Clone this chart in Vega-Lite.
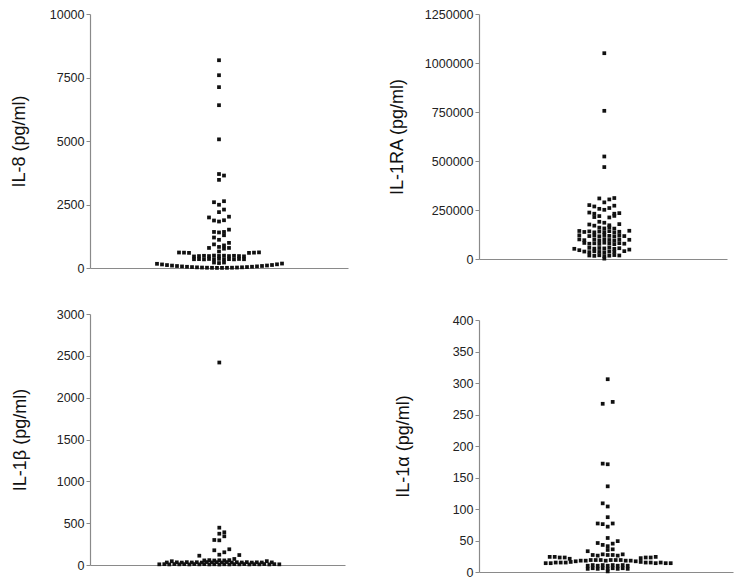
{
  "$schema": "https://vega.github.io/schema/vega-lite/v6.json",
  "background": "white",
  "padding": {"left": 10, "top": 8, "right": 5, "bottom": 5},
  "config": {
    "view": {"stroke": null},
    "axis": {"domainColor": "#8a8a8a", "tickColor": "#8a8a8a", "labelColor": "#222", "titleColor": "#111", "labelFont": "Liberation Sans", "titleFont": "Liberation Sans", "labelFontSize": 12.5, "titleFontSize": 18, "titleFontWeight": "normal", "grid": false, "tickSize": 4, "labelPadding": 2, "domainWidth": 1.2}
  },
  "datasets": {
    "il8": [
      {"x":0,"v":8180},{"x":0,"v":7590},{"x":0,"v":7120},{"x":0,"v":6410},{"x":0,"v":5065},
      {"x":0,"v":3700},{"x":5,"v":3640},{"x":0,"v":3470},
      {"x":-5,"v":2590},{"x":5,"v":2630},{"x":0,"v":2490},
      {"x":5,"v":2300},{"x":0,"v":2200},
      {"x":-10,"v":1990},{"x":10,"v":2020},{"x":-5,"v":1870},{"x":0,"v":1830},{"x":5,"v":1880},
      {"x":10,"v":1510},{"x":-5,"v":1420},{"x":5,"v":1420},{"x":0,"v":1400},{"x":5,"v":1290},
      {"x":-5,"v":1200},{"x":0,"v":1110},
      {"x":10,"v":990},{"x":-5,"v":930},{"x":5,"v":890},{"x":0,"v":830},{"x":-10,"v":790},{"x":10,"v":790},{"x":5,"v":760},{"x":0,"v":650},
      {"x":-40,"v":610},{"x":-35,"v":605},{"x":-30,"v":595},{"x":30,"v":595},{"x":35,"v":605},{"x":40,"v":615},
      {"x":-25,"v":455},{"x":-20,"v":470},{"x":-15,"v":480},{"x":-10,"v":470},{"x":-5,"v":490},{"x":0,"v":475},{"x":5,"v":485},{"x":10,"v":470},{"x":15,"v":480},{"x":20,"v":470},{"x":25,"v":460},
      {"x":-25,"v":345},{"x":-20,"v":350},{"x":-15,"v":340},{"x":-10,"v":355},{"x":-5,"v":345},{"x":0,"v":360},{"x":5,"v":345},{"x":10,"v":350},{"x":15,"v":340},{"x":20,"v":355},{"x":25,"v":345},
      {"x":-5,"v":215},{"x":0,"v":195},{"x":5,"v":215},
      {"x":-62,"v":165},{"x":-57,"v":140},{"x":-52,"v":115},{"x":-47,"v":95},{"x":-42,"v":78},{"x":-37,"v":62},{"x":-32,"v":48},{"x":-27,"v":36},{"x":-22,"v":26},{"x":-17,"v":18},{"x":-12,"v":12},{"x":-7,"v":8},{"x":-2,"v":5},
      {"x":3,"v":5},{"x":8,"v":8},{"x":13,"v":12},{"x":18,"v":18},{"x":23,"v":27},{"x":28,"v":37},{"x":33,"v":50},{"x":38,"v":64},{"x":43,"v":80},{"x":48,"v":98},{"x":53,"v":118},{"x":58,"v":145},{"x":63,"v":175}
    ],
    "il1ra": [
      {"x":0,"v":1050000},{"x":0,"v":756000},{"x":0,"v":523000},{"x":0,"v":469000},
      {"x":-5,"v":309000},{"x":5,"v":304000},{"x":10,"v":311000},
      {"x":0,"v":289000},
      {"x":-15,"v":275000},{"x":-10,"v":268000},{"x":10,"v":272000},
      {"x":-5,"v":256000},{"x":0,"v":251000},{"x":5,"v":260000},
      {"x":-15,"v":237000},{"x":-10,"v":231000},{"x":10,"v":231000},{"x":15,"v":234000},
      {"x":-10,"v":214000},{"x":-5,"v":219000},{"x":5,"v":212000},{"x":10,"v":220000},
      {"x":-5,"v":190000},{"x":0,"v":185000},
      {"x":-15,"v":176000},{"x":-10,"v":170000},{"x":5,"v":172000},{"x":15,"v":178000},
      {"x":-5,"v":160000},{"x":0,"v":156000},{"x":5,"v":162000},{"x":10,"v":155000},
      {"x":-25,"v":143000},{"x":-20,"v":138000},{"x":-15,"v":141000},{"x":-10,"v":136000},{"x":-5,"v":140000},{"x":0,"v":137000},{"x":5,"v":142000},{"x":10,"v":135000},{"x":15,"v":139000},{"x":25,"v":144000},
      {"x":-25,"v":121000},{"x":-15,"v":117000},{"x":-10,"v":120000},{"x":-5,"v":116000},{"x":0,"v":122000},{"x":5,"v":118000},{"x":10,"v":115000},{"x":15,"v":121000},{"x":20,"v":117000},
      {"x":-25,"v":100000},{"x":-20,"v":96000},{"x":-10,"v":99000},{"x":-5,"v":95000},{"x":0,"v":101000},{"x":5,"v":97000},{"x":10,"v":94000},{"x":15,"v":100000},{"x":25,"v":98000},
      {"x":-20,"v":82000},{"x":-15,"v":78000},{"x":-10,"v":80000},{"x":-5,"v":77000},{"x":0,"v":83000},{"x":5,"v":79000},{"x":10,"v":76000},{"x":15,"v":81000},{"x":20,"v":78000},
      {"x":-30,"v":52000},{"x":-25,"v":45000},{"x":-15,"v":57000},{"x":-10,"v":53000},{"x":-5,"v":56000},{"x":0,"v":54000},{"x":5,"v":58000},{"x":10,"v":52000},{"x":15,"v":55000},{"x":25,"v":48000},
      {"x":-20,"v":38000},{"x":-15,"v":35000},{"x":-10,"v":39000},{"x":-5,"v":36000},{"x":0,"v":34000},{"x":5,"v":38000},{"x":10,"v":36000},{"x":20,"v":40000},
      {"x":-15,"v":18000},{"x":-10,"v":16000},{"x":-5,"v":19000},{"x":0,"v":15000},{"x":5,"v":17000},{"x":10,"v":20000},{"x":15,"v":18000},
      {"x":0,"v":2000}
    ],
    "il1b": [
      {"x":0,"v":2420},{"x":0,"v":446},{"x":0,"v":374},{"x":5,"v":391},{"x":5,"v":343},{"x":-5,"v":299},{"x":0,"v":295},
      {"x":-5,"v":176},{"x":10,"v":188},{"x":5,"v":152},{"x":0,"v":123},{"x":-20,"v":111},{"x":20,"v":119},{"x":15,"v":72},
      {"x":-15,"v":55},{"x":-10,"v":58},{"x":-5,"v":54},{"x":0,"v":57},{"x":5,"v":55},{"x":10,"v":58},
      {"x":-52.5,"v":30},{"x":-47.5,"v":45},{"x":-42.5,"v":32},{"x":-37.5,"v":29},{"x":-32.5,"v":34},{"x":-27.5,"v":30},{"x":-22.5,"v":33},{"x":-17.5,"v":29},{"x":-12.5,"v":35},{"x":-7.5,"v":31},{"x":-2.5,"v":34},
      {"x":2.5,"v":30},{"x":7.5,"v":35},{"x":12.5,"v":29},{"x":17.5,"v":33},{"x":22.5,"v":30},{"x":27.5,"v":34},{"x":32.5,"v":29},{"x":37.5,"v":32},{"x":42.5,"v":30},{"x":47.5,"v":46},{"x":52.5,"v":31},
      {"x":-60,"v":8},{"x":-55,"v":10},{"x":-50,"v":7},{"x":-45,"v":11},{"x":-40,"v":8},{"x":-35,"v":10},{"x":-30,"v":7},{"x":-25,"v":11},{"x":-20,"v":8},{"x":-15,"v":10},{"x":-10,"v":7},{"x":-5,"v":9},{"x":0,"v":6},
      {"x":5,"v":9},{"x":10,"v":7},{"x":15,"v":10},{"x":20,"v":8},{"x":25,"v":11},{"x":30,"v":7},{"x":35,"v":10},{"x":40,"v":8},{"x":45,"v":11},{"x":50,"v":7},{"x":55,"v":10},{"x":60,"v":8}
    ],
    "il1a": [
      {"x":0,"v":306},{"x":-5,"v":267},{"x":5,"v":270},{"x":-5,"v":172},{"x":0,"v":171},{"x":0,"v":136},{"x":-5,"v":109},{"x":0,"v":104},{"x":0,"v":87},
      {"x":-10,"v":77},{"x":-5,"v":76},{"x":5,"v":77},{"x":0,"v":72},{"x":0,"v":54},
      {"x":-10,"v":46},{"x":-5,"v":43},{"x":5,"v":45},{"x":10,"v":49},{"x":0,"v":41},{"x":0,"v":35},{"x":5,"v":36},
      {"x":-20,"v":33},
      {"x":-15,"v":27},{"x":-10,"v":26},{"x":-5,"v":28},{"x":0,"v":27},{"x":5,"v":27},{"x":10,"v":26},{"x":15,"v":28},
      {"x":-58,"v":24},{"x":-53,"v":24},{"x":-48,"v":23},{"x":-43,"v":23},{"x":-38,"v":21},{"x":33,"v":22},{"x":38,"v":23},{"x":43,"v":23},{"x":48,"v":24},
      {"x":-62,"v":14},{"x":-57,"v":14},{"x":-52,"v":15},{"x":-47,"v":15},{"x":-42,"v":15},{"x":-37,"v":16},{"x":-32,"v":17},{"x":-27,"v":18},{"x":-22,"v":18},{"x":-17,"v":19},{"x":-12,"v":19},{"x":-7,"v":19},{"x":-2,"v":18},
      {"x":3,"v":19},{"x":8,"v":19},{"x":13,"v":19},{"x":18,"v":18},{"x":23,"v":18},{"x":28,"v":17},{"x":33,"v":16},{"x":38,"v":15},{"x":43,"v":15},{"x":48,"v":14},{"x":53,"v":15},{"x":58,"v":14},{"x":63,"v":14},
      {"x":-20,"v":10},{"x":-15,"v":11},{"x":-10,"v":10},{"x":-5,"v":11},{"x":0,"v":10},{"x":5,"v":11},{"x":10,"v":10},{"x":15,"v":11},{"x":20,"v":10},
      {"x":-20,"v":5},{"x":-15,"v":6},{"x":-10,"v":5},{"x":-5,"v":6},{"x":0,"v":5},{"x":5,"v":6},{"x":10,"v":5},{"x":15,"v":6},{"x":20,"v":5},
      {"x":0,"v":1}
    ]
  },
  "hconcat": [
    {
      "vconcat": [
        {
          "width": 258, "height": 254,
          "data": {"name": "il8"},
          "mark": {"type": "square", "size": 14, "color": "#111", "opacity": 1},
          "encoding": {
            "x": {"field": "x", "type": "quantitative", "scale": {"domain": [-129, 129], "nice": false, "zero": false}, "axis": {"title": null, "labels": false, "ticks": false}},
            "y": {"field": "v", "type": "quantitative", "scale": {"domain": [0, 10000], "nice": false}, "axis": {"title": "IL-8 (pg/ml)", "values": [0, 2500, 5000, 7500, 10000], "format": "d", "titlePadding": 21}}
          }
        },
        {
          "width": 255, "height": 251,
          "data": {"name": "il1b"},
          "mark": {"type": "square", "size": 14, "color": "#111", "opacity": 1},
          "encoding": {
            "x": {"field": "x", "type": "quantitative", "scale": {"domain": [-129.3, 125.7], "nice": false, "zero": false}, "axis": {"title": null, "labels": false, "ticks": false}},
            "y": {"field": "v", "type": "quantitative", "scale": {"domain": [0, 3000], "nice": false}, "axis": {"title": "IL-1β (pg/ml)", "values": [0, 500, 1000, 1500, 2000, 2500, 3000], "format": "d", "titlePadding": 27}}
          }
        }
      ],
      "spacing": 46,
      "bounds": "flush"
    },
    {
      "vconcat": [
        {
          "width": 248, "height": 245,
          "data": {"name": "il1ra"},
          "mark": {"type": "square", "size": 14, "color": "#111", "opacity": 1},
          "encoding": {
            "x": {"field": "x", "type": "quantitative", "scale": {"domain": [-125.3, 122.7], "nice": false, "zero": false}, "axis": {"title": null, "labels": false, "ticks": false}},
            "y": {"field": "v", "type": "quantitative", "scale": {"domain": [0, 1250000], "nice": false}, "axis": {"title": "IL-1RA (pg/ml)", "values": [0, 250000, 500000, 750000, 1000000, 1250000], "format": "d", "titlePadding": 18}}
          }
        },
        {
          "width": 254, "height": 252,
          "data": {"name": "il1a"},
          "mark": {"type": "square", "size": 14, "color": "#111", "opacity": 1},
          "encoding": {
            "x": {"field": "x", "type": "quantitative", "scale": {"domain": [-128.7, 125.3], "nice": false, "zero": false}, "axis": {"title": null, "labels": false, "ticks": false}},
            "y": {"field": "v", "type": "quantitative", "scale": {"domain": [0, 400], "nice": false}, "axis": {"title": "IL-1α (pg/ml)", "values": [0, 50, 100, 150, 200, 250, 300, 350, 400], "format": "d", "titlePadding": 40}}
          }
        }
      ],
      "spacing": 61,
      "bounds": "flush"
    }
  ],
  "spacing": 389,
  "bounds": "flush"
}
